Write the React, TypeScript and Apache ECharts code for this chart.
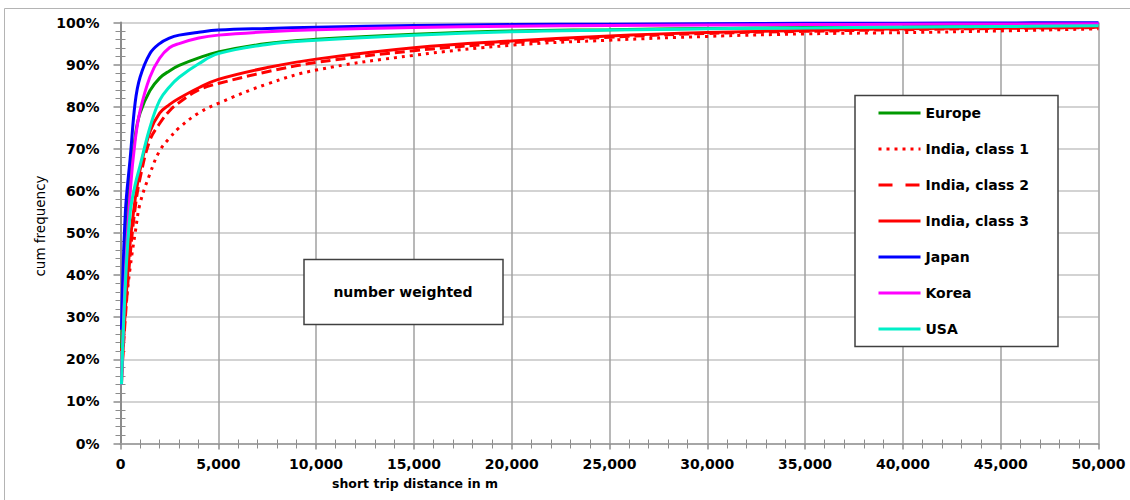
import React, { useEffect, useRef } from "react";
import * as echarts from "echarts";

// distances (m) at which cumulative frequencies were read
const distances = [50, 250, 500, 750, 1000, 1500, 2000, 2500, 3000, 4000, 5000, 7500, 10000, 15000, 20000, 25000, 30000, 35000, 40000, 45000, 50000];

// cumulative frequency in %
const europe = [22, 45, 63, 73, 78.5, 83.8, 86.8, 88.5, 89.8, 91.6, 93, 95, 96, 97.2, 98, 98.3, 98.6, 98.8, 99, 99.2, 99.3];
const indiaClass1 = [22, 32, 42, 50, 57, 64, 69.5, 72.5, 75, 78.5, 80.8, 85.4, 88.7, 92.2, 94.6, 95.8, 96.7, 97.3, 97.6, 98, 98.5];
const indiaClass2 = [16, 30, 45, 56, 63, 72, 76, 79, 81, 84, 85.5, 88.3, 90.5, 93.3, 95.2, 96.5, 97.4, 97.9, 98.3, 98.6, 98.8];
const indiaClass3 = [14, 32, 48, 58, 65, 74, 78.5, 80.5, 82, 84.5, 86.5, 89.3, 91.3, 94, 95.6, 96.8, 97.6, 98.1, 98.5, 98.7, 98.9];
const japan = [27, 55, 68, 81, 87, 92.6, 95, 96.3, 97, 97.7, 98.2, 98.6, 98.9, 99.3, 99.5, 99.6, 99.7, 99.8, 99.85, 99.9, 99.95];
const korea = [14, 40, 60, 72, 79, 87, 91.5, 94, 95, 96.3, 97, 97.8, 98.3, 98.8, 99.1, 99.3, 99.4, 99.5, 99.6, 99.65, 99.7];
const usa = [14, 38, 55, 61.5, 66, 75, 81.5, 84.7, 87, 90.2, 92.6, 94.8, 95.8, 97, 97.8, 98.2, 98.5, 98.7, 98.9, 99.05, 99.2];

const seriesNames = ["Europe", "India, class 1", "India, class 2", "India, class 3", "Japan", "Korea", "USA"];
const seriesValues = [europe, indiaClass1, indiaClass2, indiaClass3, japan, korea, usa];

const xAxisTitle = "short trip distance in m";
const yAxisTitle = "cum frequency";
const noteText = "number weighted";

const FONT = "DejaVu Sans";
const colors = ["#009900", "#ff0000", "#ff0000", "#ff0000", "#0000ff", "#ff00ff", "#00efc8"];
const lineTypes: any[] = ["solid", [3, 5], [10, 5], "solid", "solid", "solid", "solid"];
const legendLineTypes: any[] = ["solid", [3, 5], [14, 13], "solid", "solid", "solid", "solid"];

export default function App() {
  const ref = useRef<HTMLDivElement>(null);
  useEffect(() => {
    if (!ref.current) return;
    const chart = echarts.init(ref.current, undefined, { renderer: "svg" });
    const series = seriesNames.map((name, k) => ({
      name,
      type: "line",
      xAxisIndex: 0,
      yAxisIndex: 0,
      data: distances.map((d, i) => [d, seriesValues[k][i]]),
      symbol: "none",
      smooth: 0.4,
      silent: true,
      lineStyle: { color: colors[k], width: 3, type: lineTypes[k] },
      itemStyle: { color: colors[k] },
      z: 2,
    }));
    const xBase = {
      type: "value",
      min: 0,
      max: 50000,
      interval: 5000,
      position: "bottom",
      gridIndex: 0,
    };
    const yBase = {
      type: "value",
      min: 0,
      max: 100,
      interval: 10,
      position: "left",
      gridIndex: 0,
    };
    chart.setOption({
      animation: false,
      backgroundColor: "#ffffff",
      grid: { left: 120.5, right: 31.5, top: 22.5, bottom: 56.5, containLabel: false },
      xAxis: [
        {
          ...xBase,
          axisLine: { show: true, lineStyle: { color: "#a6a6a6", width: 2 } },
          axisTick: { show: true, length: 6, lineStyle: { color: "#8c8c8c", width: 1.5 } },
          minorTick: { show: true, splitNumber: 5, length: 5, lineStyle: { color: "#8c8c8c", width: 1 } },
          splitLine: { show: true, lineStyle: { color: "#a0a0a0", width: 1.5 } },
          axisLabel: {
            margin: 13,
            fontFamily: FONT,
            fontWeight: "bold",
            fontSize: 14,
            color: "#000",
            formatter: (v: number) => v.toLocaleString("en-US"),
          },
        },
        {
          ...xBase,
          axisLine: { show: false },
          axisTick: { show: false, inside: true },
          minorTick: { show: true, splitNumber: 5, length: 4, lineStyle: { color: "#8c8c8c", width: 1 } },
          splitLine: { show: false },
          axisLabel: { show: false },
        },
      ],
      yAxis: [
        {
          ...yBase,
          axisLine: { show: true, lineStyle: { color: "#8c8c8c", width: 2 } },
          axisTick: { show: true, length: 7, lineStyle: { color: "#8c8c8c", width: 1.5 } },
          minorTick: { show: true, splitNumber: 5, length: 5, lineStyle: { color: "#8c8c8c", width: 1 } },
          splitLine: { show: true, lineStyle: { color: "#c4c4c4", width: 1.5 } },
          axisLabel: {
            margin: 21,
            fontFamily: FONT,
            fontWeight: "bold",
            fontSize: 14,
            color: "#000",
            formatter: (v: number) => v + "%",
          },
        },
        {
          ...yBase,
          axisLine: { show: false },
          axisTick: { show: false, inside: true },
          minorTick: { show: true, splitNumber: 5, length: 5, lineStyle: { color: "#8c8c8c", width: 1 } },
          splitLine: { show: false },
          axisLabel: { show: false },
        },
      ],
      legend: {
        orient: "vertical",
        left: 877,
        top: 106,
        padding: 0,
        itemWidth: 42,
        itemHeight: 14,
        itemGap: 22,
        selectedMode: false,
        z: 6,
        textStyle: { fontFamily: FONT, fontWeight: "bold", fontSize: 14, color: "#000", lineHeight: 14 },
        data: seriesNames.map((name, k) => ({
          name,
          itemStyle: { opacity: 0, borderWidth: 0 },
          lineStyle: { color: colors[k], width: 3, type: legendLineTypes[k], opacity: 1 },
        })),
      },
      graphic: [
        {
          type: "rect",
          silent: true,
          z: 0,
          shape: { x: 4.5, y: 8.5, width: 1140, height: 520 },
          style: { fill: "none", stroke: "#b4b4b4", lineWidth: 1 },
        },
        {
          type: "rect",
          silent: true,
          z: 5,
          shape: { x: 855, y: 95.5, width: 203, height: 251 },
          style: { fill: "#ffffff", stroke: "#404040", lineWidth: 1.5 },
        },
        {
          type: "rect",
          silent: true,
          z: 5,
          shape: { x: 304, y: 259.5, width: 199, height: 65 },
          style: { fill: "#ffffff", stroke: "#404040", lineWidth: 1.5 },
        },
        {
          type: "text",
          silent: true,
          z: 6,
          x: 403,
          y: 292,
          style: {
            text: noteText,
            fontFamily: FONT,
            fontWeight: "bold",
            fontSize: 14,
            fill: "#000",
            align: "center",
            verticalAlign: "middle",
          },
        },
        {
          type: "text",
          silent: true,
          z: 6,
          x: 415,
          y: 483,
          style: {
            text: xAxisTitle,
            fontFamily: FONT,
            fontWeight: "bold",
            fontSize: 12.5,
            fill: "#000",
            align: "center",
            verticalAlign: "middle",
          },
        },
        {
          type: "text",
          silent: true,
          z: 6,
          x: 40,
          y: 226,
          rotation: Math.PI / 2,
          style: {
            text: yAxisTitle,
            fontFamily: FONT,
            fontWeight: "normal",
            fontSize: 13.5,
            fill: "#000",
            align: "center",
            verticalAlign: "middle",
          },
        },
      ],
      series,
    });
    return () => chart.dispose();
  }, []);
  return (
    <div
      ref={ref}
      style={{ position: "absolute", left: 0, top: 0, width: 1130, height: 500 }}
    />
  );
}
